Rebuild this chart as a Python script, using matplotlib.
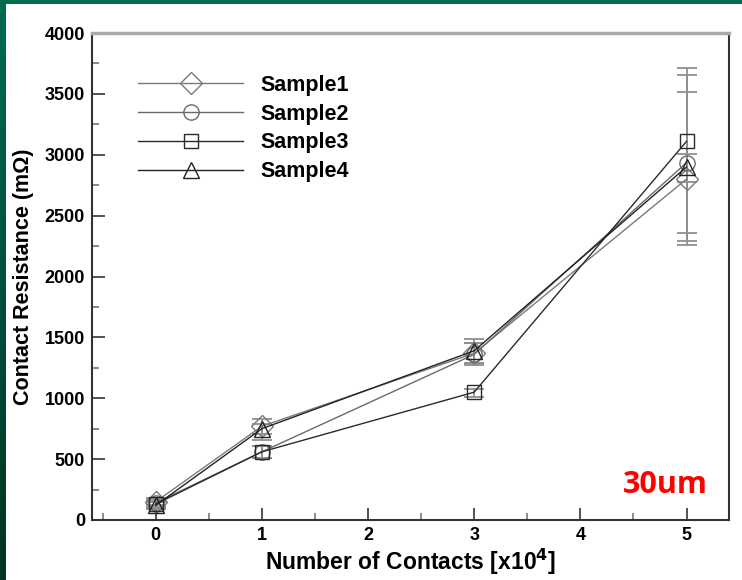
import numpy as np
import matplotlib
matplotlib.use("Agg")
import matplotlib.pyplot as plt
from matplotlib.ticker import MultipleLocator
from matplotlib.colors import LinearSegmentedColormap

plt.rcParams['font.family'] = ['Liberation Sans', 'DejaVu Sans']

# contacts [x10^4]
contacts = [0, 1, 3, 5]
names = ['Sample1', 'Sample2', 'Sample3', 'Sample4']
markers = ['D', 'o', 's', '^']

# contact resistance (mOhm)
sample1 = [150, 770, 1370, 2800]
sample2 = [140, 560, 1360, 2935]
sample3 = [130, 560, 1050, 3110]
sample4 = [120, 750, 1390, 2900]

# error bars (lower, upper)
err1 = [[30, 60, 80, 20], [30, 60, 80, 210]]
err2 = [[30, 50, 90, 647], [30, 50, 90, 720]]
err3 = [[30, 50, 40, 750], [30, 50, 30, 600]]
err4 = [[30, 90, 100, 645], [30, 40, 100, 615]]

series = [sample1, sample2, sample3, sample4]
errors = [err1, err2, err3, err4]
colors = ['#7a7a7a', '#6a6a6a', '#2a2a2a', '#222222']

fig = plt.figure(figsize=(7.42, 5.8), dpi=100)

# green slide border (top strip + left strip)
bg = fig.add_axes([0, 0, 1, 1], zorder=-10)
bg.axis('off')
grad = np.linspace(0, 1, 256).reshape(-1, 1)
gcm = LinearSegmentedColormap.from_list('g', ['#006b50', '#003326'])
bg.imshow(grad, cmap=gcm, extent=[0, 6 / 742, 0, 1], aspect='auto')
bg.add_patch(plt.Rectangle((0, 1 - 4 / 580), 1, 4 / 580, color='#006b50', lw=0))
bg.set_xlim(0, 1)
bg.set_ylim(0, 1)

ax = fig.add_axes([92 / 742, 60 / 580, 637 / 742, 487 / 580])

for i in range(4):
    ax.errorbar(contacts, series[i], yerr=errors[i], fmt='none',
                ecolor='#909090', elinewidth=1.3, capsize=7, capthick=1.3, zorder=2)
    ax.plot(contacts, series[i], color=colors[i], lw=1.0, marker=markers[i],
            markersize=11 if markers[i] != 's' else 10, mfc='none', mec=colors[i],
            mew=1.0, label=names[i], zorder=3)

ax.set_xlim(-0.6, 5.4)
ax.set_ylim(0, 4000)
ax.xaxis.set_major_locator(MultipleLocator(1))
ax.xaxis.set_minor_locator(MultipleLocator(0.5))
ax.yaxis.set_major_locator(MultipleLocator(500))
ax.yaxis.set_minor_locator(MultipleLocator(250))
ax.tick_params(which='major', direction='in', length=9, width=1.2, color='#333333',
               labelsize=13, pad=5)
ax.tick_params(which='minor', direction='in', length=5, width=1.2, color='#777777')
ax.tick_params(top=False, right=False, which='both')
for lab in ax.get_xticklabels() + ax.get_yticklabels():
    lab.set_fontweight('bold')

for side in ['left', 'bottom', 'right']:
    ax.spines[side].set_linewidth(1.5)
    ax.spines[side].set_color('#333333')
ax.spines['top'].set_linewidth(2.5)
ax.spines['top'].set_color('#aaaaaa')

ax.set_xlabel('Number of Contacts [x10$^\\mathbf{4}$]', fontsize=16.5, fontweight='bold', labelpad=2)
ax.set_ylabel('Contact Resistance (m\u03a9)', fontsize=15.5, fontweight='bold', labelpad=8)

leg = ax.legend(loc='upper left', bbox_to_anchor=(0.072, 0.914), frameon=False,
                prop={'weight': 'bold', 'size': 15.5}, handlelength=4.9,
                handletextpad=0.8, labelspacing=0.36, borderpad=0, borderaxespad=0)

ax.text(0.967, 0.041, '30um', transform=ax.transAxes, color='#ff0000', fontsize=22,
        fontweight='bold', family=['Open Sans', 'DejaVu Sans'], ha='right', va='bottom')

fig.savefig('out.png', dpi=100)
